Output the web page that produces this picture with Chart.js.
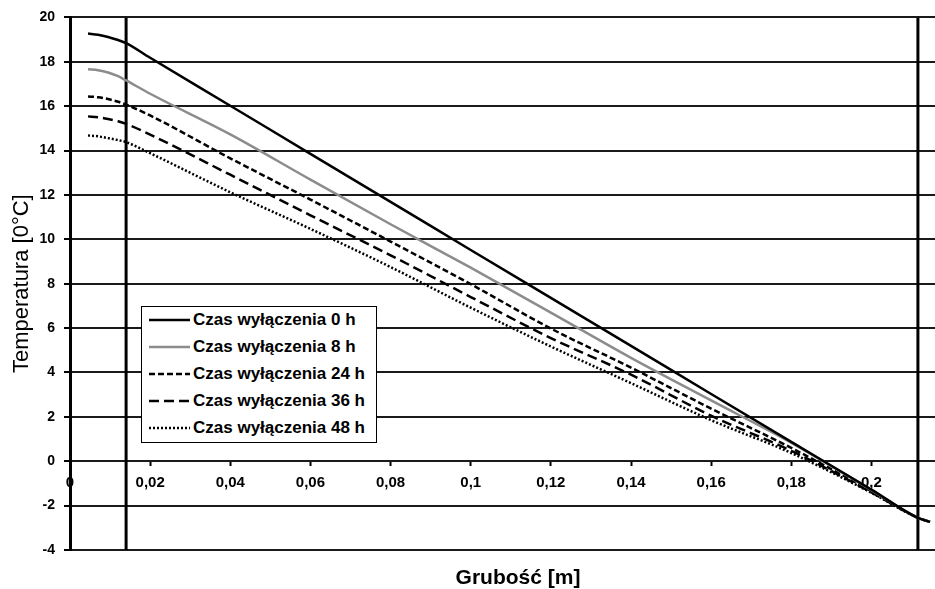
<!DOCTYPE html>
<html><head><meta charset="utf-8">
<script src="https://cdn.jsdelivr.net/npm/chart.js@4.4.1/dist/chart.umd.min.js"></script>
<style>
html,body{margin:0;padding:0;background:#fff;overflow:hidden;width:935px;height:589px}
#wrap{position:relative;width:975px;height:589px}
#legend{position:absolute;left:141px;top:306px;width:236px;height:137px;box-sizing:border-box;border:1.5px solid #000;background:#fff;font:bold 17px "Liberation Sans",Arial,sans-serif;color:#000}
.row{display:flex;align-items:center;height:26.8px;white-space:nowrap}
.row svg{margin-left:7px;margin-right:3px;flex:none}
</style></head>
<body><div id="wrap"><canvas id="c"></canvas><div id="legend"></div></div>
<script>
// ---- data ----
const thickness = [0.0045, 0.007, 0.0095, 0.012, 0.014, 0.02, 0.04, 0.06, 0.08, 0.1, 0.12, 0.14, 0.16, 0.18, 0.2, 0.2116, 0.2146];
const seriesLabels = ['Czas wyłączenia 0 h', 'Czas wyłączenia 8 h', 'Czas wyłączenia 24 h', 'Czas wyłączenia 36 h', 'Czas wyłączenia 48 h'];
const temp0h  = [19.27, 19.22, 19.12, 18.98, 18.84, 18.18, 16.02, 13.85, 11.69, 9.52, 7.36, 5.20, 3.03, 0.87, -1.28, -2.55, -2.73];
const temp8h  = [17.66, 17.62, 17.52, 17.35, 17.16, 16.56, 14.73, 12.69, 10.68, 8.72, 6.70, 4.66, 2.74, 0.83, -1.30, -2.55, -2.73];
const temp24h = [16.44, 16.40, 16.32, 16.20, 16.07, 15.58, 13.65, 11.79, 9.90, 7.98, 5.98, 4.22, 2.37, 0.60, -1.35, -2.55, -2.73];
const temp36h = [15.54, 15.50, 15.42, 15.32, 15.20, 14.72, 12.91, 11.08, 9.28, 7.40, 5.55, 3.90, 2.05, 0.47, -1.40, -2.55, -2.73];
const temp48h = [14.68, 14.64, 14.56, 14.47, 14.38, 13.88, 12.12, 10.47, 8.75, 6.92, 5.17, 3.52, 1.85, 0.37, -1.42, -2.55, -2.73];
const boundaries = [0.014, 0.2116];
const xTickValues = [0, 0.02, 0.04, 0.06, 0.08, 0.1, 0.12, 0.14, 0.16, 0.18, 0.2];
const xTickLabels = ['0', '0,02', '0,04', '0,06', '0,08', '0,1', '0,12', '0,14', '0,16', '0,18', '0,2'];
const yTickValues = [-4, -2, 0, 2, 4, 6, 8, 10, 12, 14, 16, 18, 20];
const yTickLabels = ['-4', '-2', '0', '2', '4', '6', '8', '10', '12', '14', '16', '18', '20'];
const xMin = 0, xMax = 0.2236, yMin = -4, yMax = 20;

// ---- styles ----
const FAM = '"Liberation Sans", Arial, sans-serif';
const seriesStyles = [
  { color: '#000000', dash: [] },
  { color: '#8c8c8c', dash: [] },
  { color: '#000000', dash: [6, 3] },
  { color: '#000000', dash: [10, 5] },
  { color: '#000000', dash: [2, 2] }
];
const seriesValues = [temp0h, temp8h, temp24h, temp36h, temp48h];

const datasets = seriesValues.map((vals, i) => ({
  label: seriesLabels[i],
  data: thickness.map((x, j) => ({ x: x, y: vals[j] })),
  borderColor: seriesStyles[i].color,
  borderDash: seriesStyles[i].dash,
  borderWidth: 2.5,
  pointRadius: 0,
  cubicInterpolationMode: 'monotone',
  fill: false
}));
boundaries.forEach(b => datasets.push({
  data: [{ x: b, y: yMin }, { x: b, y: yMax }],
  borderColor: '#000', borderWidth: 3, pointRadius: 0, fill: false
}));

const chart = new Chart(document.getElementById('c'), {
  type: 'line',
  data: { datasets: datasets },
  options: {
    responsive: true, maintainAspectRatio: false, animation: false, devicePixelRatio: 1,
    layout: { padding: { top: 17, right: 9, bottom: 0, left: 0 } },
    plugins: { legend: { display: false }, tooltip: { enabled: false } },
    scales: {
      x: {
        type: 'linear', min: xMin, max: xMax, position: { y: 0 },
        afterBuildTicks: s => { s.ticks = xTickValues.map(v => ({ value: v })); },
        ticks: { callback: (v, i) => xTickLabels[i], font: { family: FAM, size: 15, weight: 'bold' }, color: '#000', padding: 8, maxRotation: 0, autoSkip: false },
        grid: { drawOnChartArea: false, drawTicks: true, tickLength: 5, tickColor: '#000', tickWidth: 2 },
        border: { display: false }
      },
      xt: {
        type: 'linear', position: 'bottom', min: 0, max: 1,
        ticks: { display: false }, grid: { display: false }, border: { display: false },
        title: { display: true, text: 'Grubość [m]', font: { family: FAM, size: 21, weight: 'bold', lineHeight: 1 }, color: '#000', padding: { top: 10, bottom: 0 } }
      },
      y: {
        type: 'linear', min: yMin, max: yMax, position: 'left',
        afterBuildTicks: s => { s.ticks = yTickValues.map(v => ({ value: v })); },
        afterFit: s => { s.width = 70; },
        ticks: { callback: (v, i) => yTickLabels[i], font: { family: FAM, size: 14, weight: 'bold' }, color: '#000', padding: 9 },
        grid: { color: '#1a1a1a', lineWidth: 2, tickLength: 6, tickColor: '#000', tickWidth: 2 },
        border: { display: true, color: '#000', width: 3 },
        title: { display: true, text: 'Temperatura [0°C]', font: { family: FAM, size: 22 }, color: '#000', padding: { top: 9, bottom: 0 } }
      }
    }
  }
});

// ---- legend built from the chart's datasets ----
const legendEl = document.getElementById('legend');
chart.data.datasets.filter(d => d.label).forEach(d => {
  const row = document.createElement('div');
  row.className = 'row';
  const svgNS = 'http://www.w3.org/2000/svg';
  const svg = document.createElementNS(svgNS, 'svg');
  svg.setAttribute('width', '41'); svg.setAttribute('height', '10');
  const ln = document.createElementNS(svgNS, 'line');
  ln.setAttribute('x1', '0'); ln.setAttribute('x2', '41'); ln.setAttribute('y1', '5'); ln.setAttribute('y2', '5');
  ln.setAttribute('stroke', d.borderColor); ln.setAttribute('stroke-width', '2.5');
  if (d.borderDash && d.borderDash.length) ln.setAttribute('stroke-dasharray', d.borderDash.join(' '));
  svg.appendChild(ln);
  const span = document.createElement('span');
  span.textContent = d.label;
  row.appendChild(svg); row.appendChild(span);
  legendEl.appendChild(row);
});
</script>
</body></html>
